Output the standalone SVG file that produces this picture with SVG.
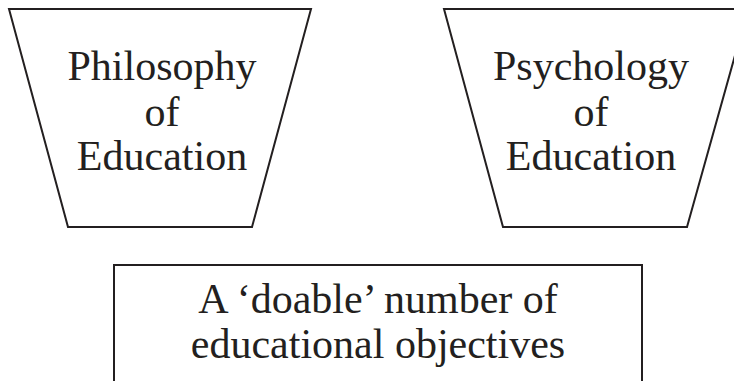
<svg xmlns="http://www.w3.org/2000/svg" width="734" height="381" viewBox="0 0 734 381">
<style>
.shape{fill:#fff;stroke:#231f20;stroke-width:2;stroke-linejoin:miter}
.t{font-family:"Liberation Serif","Times New Roman",serif;font-size:42px;fill:#231f20;text-anchor:middle}
</style>
<rect width="734" height="381" fill="#fff"/>
<g id="philosophy">
<polygon class="shape" points="9,9 311,9 252,227 68,227"/>
<text class="t" x="162" y="80">Philosophy</text>
<text class="t" x="162" y="126">of</text>
<text class="t" x="162" y="170">Education</text>
</g>
<g id="psychology">
<polygon class="shape" points="444,9 748,9 687,227 503,227"/>
<text class="t" x="591" y="80">Psychology</text>
<text class="t" x="591" y="126">of</text>
<text class="t" x="591" y="170">Education</text>
</g>
<g id="objectives">
<path class="shape" d="M114,390 V265 H642 V390"/>
<text class="t" x="378" y="313">A ‘doable’ number of</text>
<text class="t" x="378" y="358">educational objectives</text>
</g>
<g id="connectors"></g>
</svg>
